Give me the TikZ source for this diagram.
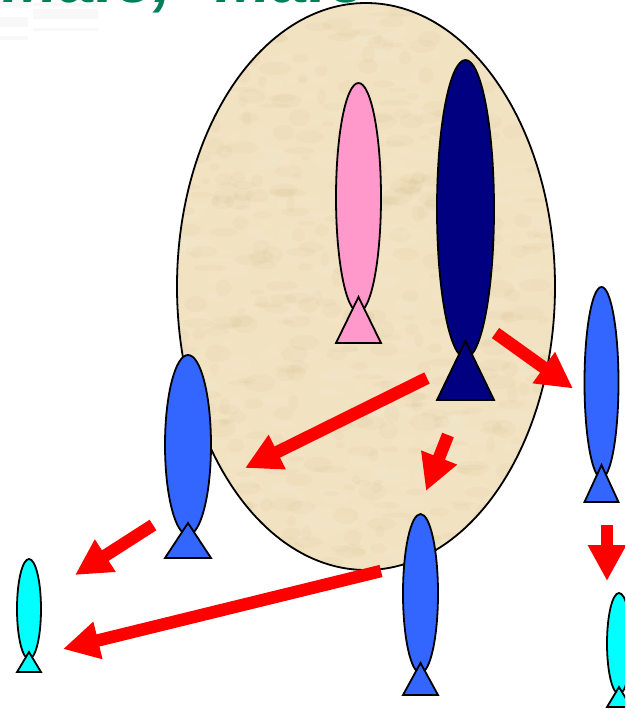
\documentclass[tikz,border=0pt]{standalone}
\usepackage{fontspec}
\setmainfont{Liberation Sans}
\usetikzlibrary{arrows.meta,shapes.geometric}
\definecolor{tanbase}{HTML}{F1E2C2}
\definecolor{tandark}{HTML}{CDB07A}
\definecolor{tanlight}{HTML}{FAF0D8}
\definecolor{navyfish}{HTML}{000080}
\definecolor{bluefish}{HTML}{3366FF}
\definecolor{pinkfish}{HTML}{FF99CC}
\definecolor{cyanfish}{HTML}{00FFFF}
\definecolor{titlegreen}{HTML}{00805A}
\definecolor{ghost}{HTML}{F8F8F8}
\tikzset{
  bodyshape/.style={ellipse,draw=black,line width=1.8pt,inner sep=0pt,outer sep=0pt},
  tailshape/.style={draw=black,line width=1.8pt,line join=miter},
  redarrow/.style={draw=red,line width=12.5pt,-{Triangle[length=36pt,width=36pt]}},
  ghostbar/.style={fill=ghost,draw=none,rounded corners=1pt},
}
% name, colour, centre x, half width, top y, ellipse bottom y, apex y, base y
\newcommand{\drawfish}[8]{%
  \node[bodyshape,fill=#2,minimum width=#4*2pt,minimum height=#6pt-#5pt] (#1) at (#3,{(#5+#6)/2}) {};
  \draw[tailshape,fill=#2] (#3-#4,#8) -- (#3,#7) -- (#3+#4,#8) -- cycle;
}
\begin{document}
\begin{tikzpicture}[x=1pt,y=-1pt]
\useasboundingbox (0,0) rectangle (625,710);
\clip (0,0) rectangle (625,710);
\fill[white] (0,0) rectangle (625,710);
% faint ghost bars, top left
\fill[ghostbar] (33,9) rectangle (98,19);
\fill[ghostbar] (33,3) rectangle (98,6);
\fill[ghostbar] (0,17) rectangle (28,27);
\fill[ghostbar] (33,28) rectangle (98,31);
\fill[ghostbar] (0,36) rectangle (28,40);
\fill[ghostbar] (0,0) rectangle (28,8);
% clipped title
\node[anchor=base west,inner sep=0pt,text=titlegreen,font=\fontsize{68}{68}\selectfont\bfseries\itshape] (title) at (2,2.5) {Male,\hspace{24pt} Male};
% big cell with mottled fill
\node[ellipse,fill=tanbase,inner sep=0pt,outer sep=0pt,minimum width=378pt,minimum height=567pt] (cell) at (366,286.5) {};
\begin{scope}
  \clip (366,286.5) ellipse [x radius=189,y radius=283.5];
  \pgfmathsetseed{4242}
  \foreach \i in {1,...,1000}{
    \pgfmathsetmacro{\px}{170+rnd*395}
    \pgfmathsetmacro{\py}{rnd*580}
    \pgfmathsetmacro{\rx}{4+rnd*13}
    \pgfmathsetmacro{\ry}{2+rnd*7}
    \pgfmathsetmacro{\pick}{rnd}
    \ifdim\pick pt<0.5pt
      \fill[tandark,opacity=.08] (\px,\py) ellipse [x radius=\rx,y radius=\ry];
    \else
      \fill[tanlight,opacity=.10] (\px,\py) ellipse [x radius=\rx,y radius=\ry];
    \fi
  }
\end{scope}
\draw[black,line width=1.8pt] (366,286.5) ellipse [x radius=189,y radius=283.5];
% fish
\drawfish{pink}{pinkfish}{358.5}{22.5}{83}{312}{297}{343}
\drawfish{navy}{navyfish}{465.5}{28.5}{60}{358}{341}{400}
\drawfish{blueL}{bluefish}{188}{23}{355}{535}{523}{558}
\drawfish{blueR}{bluefish}{601.5}{17}{287}{478}{465}{502}
\drawfish{blueB}{bluefish}{420.5}{17.5}{514}{673}{663}{695}
\drawfish{cyanL}{cyanfish}{29}{12}{559}{659}{652}{672}
\drawfish{cyanR}{cyanfish}{619}{12}{593}{694}{687}{707}
% arrow ends
\coordinate (a1s) at (495.5,333);
\coordinate (a1e) at (573,388.5);
\coordinate (a2s) at (427,378);
\coordinate (a2e) at (245,468);
\coordinate (a3s) at (448,435);
\coordinate (a3e) at (426,491);
\coordinate (a4s) at (153,525);
\coordinate (a4e) at (75,575);
\coordinate (a5s) at (381,571);
\coordinate (a5e) at (63,649);
\coordinate (a6s) at (607,525);
\coordinate (a6e) at (607,581);
\foreach \n in {1,...,6}{
  \draw[redarrow] (a\n s) -- (a\n e);
}
\end{tikzpicture}
\end{document}
